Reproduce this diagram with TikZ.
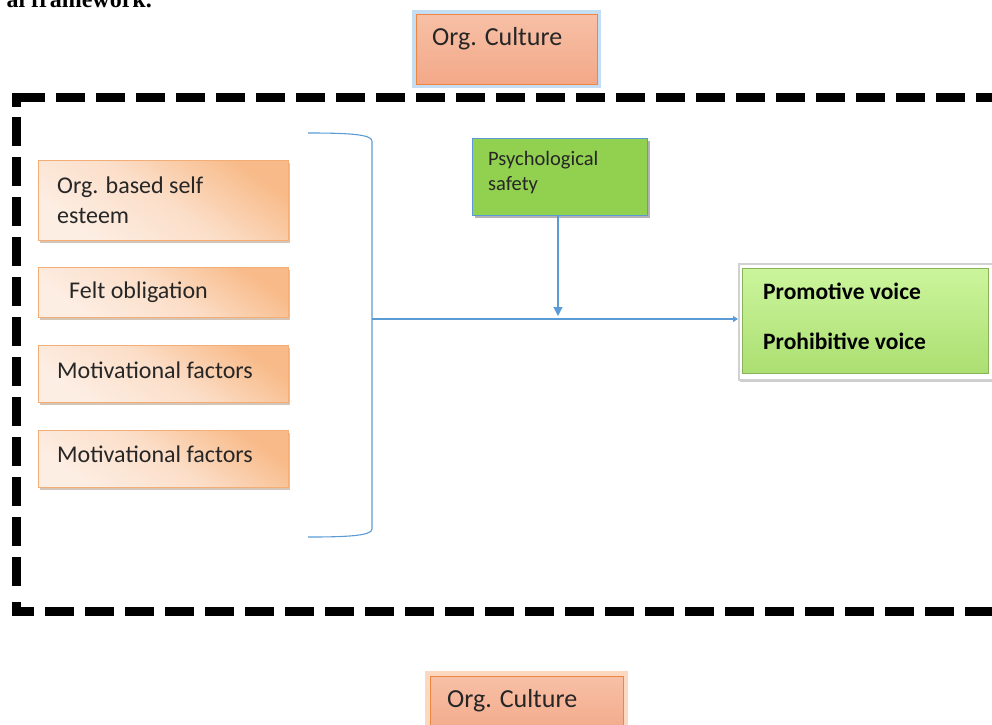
\documentclass[tikz,border=0pt]{standalone}
\usepackage{fontspec}
\setmainfont{Carlito}
\newfontfamily\titleserif{Liberation Serif}
\usetikzlibrary{arrows.meta,shadows,calc}
\definecolor{lineblue}{HTML}{5B9BD5}
\definecolor{glowblue}{HTML}{C5DDF3}
\definecolor{orgborder}{HTML}{EE8540}
\definecolor{salmontop}{HTML}{F7C0A6}
\definecolor{salmonbot}{HTML}{F3A888}
\definecolor{peachdark}{HTML}{F8BA88}
\definecolor{peachlight}{HTML}{FDEEE4}
\definecolor{peachedge}{HTML}{F3AE78}
\definecolor{psychgreen}{HTML}{92D050}
\definecolor{voicetop}{HTML}{CBF59C}
\definecolor{voicebot}{HTML}{ACDF72}
\definecolor{glowor}{HTML}{FCD9BE}
\tikzset{
  orgbox/.style={draw=orgborder, line width=1.1pt, top color=salmontop, bottom color=salmonbot, inner sep=0pt, anchor=north west},
  factorbox/.style={draw=peachedge, line width=0.5pt, top color=peachdark, bottom color=peachlight, middle color=peachlight!70!peachdark, shading angle=-35, inner sep=0pt, anchor=north west, minimum width=250pt,
    drop shadow={shadow xshift=2pt, shadow yshift=-3pt, fill=brown!70!black, opacity=0.35}},
  psychbox/.style={draw=lineblue, line width=0.8pt, fill=psychgreen, inner sep=0pt, anchor=north west, minimum width=175pt, minimum height=77pt,
    drop shadow={shadow xshift=3pt, shadow yshift=-3pt, fill=black, opacity=0.3}},
  voiceframe/.style={draw=black!18, line width=1.5pt, fill=white, inner sep=0pt, anchor=north west, minimum width=255pt, minimum height=116pt,
    drop shadow={shadow xshift=1pt, shadow yshift=-2pt, fill=black, opacity=0.2}},
  voicebox/.style={draw=voicebot!80!black, line width=0.4pt, top color=voicetop, bottom color=voicebot, inner sep=0pt, anchor=north west, minimum width=246pt, minimum height=105pt},
  bigtxt/.style={anchor=base west, inner sep=0pt, font=\fontsize{26}{30}\selectfont, text=black!85},
  facttxt/.style={anchor=base west, inner sep=0pt, font=\fontsize{24}{28}\selectfont, text=black!85},
  psytxt/.style={anchor=base west, inner sep=0pt, font=\fontsize{20.5}{24}\selectfont, text=black!85},
  voicetxt/.style={anchor=base west, inner sep=0pt, font=\fontsize{23.5}{28}\selectfont\bfseries, text=black},
  conn/.style={draw=lineblue, line width=1.1pt},
  frame/.style={line width=9pt, black, dash pattern=on 29pt off 11pt}
}
\begin{document}
\begin{tikzpicture}[x=1pt,y=-1pt]
\useasboundingbox (0,0) rectangle (992,724);
\clip (0,0) rectangle (992,724);

% cropped caption at the very top
\node[anchor=base east, inner sep=0pt, font=\titleserif\bfseries\fontsize{24}{28}\selectfont] (caption) at (152,7) {al framework.};

% top Org. Culture box with blue glow
\fill[glowblue] (412,10) rectangle (601,88);
\node[orgbox, minimum width=181pt, minimum height=70pt] (orgtop) at (416,14) {};
\node[bigtxt] (orgtoptxt) at (432,45) {Org. Culture};

% dashed frame
\draw[frame] (16,97) -- (1000,97);
\fill[black] (11.5,92.5) rectangle (20.5,107);
\draw[frame] (16,117) -- (16,597);
\fill[black] (11.5,602) rectangle (20.5,615.5);
\draw[frame, dash phase=7pt] (12,611) -- (1000,611);

% factor boxes
\node[factorbox, minimum height=80pt] (f1) at (38,160) {};
\node[facttxt] (f1a) at (57,193) {Org. based self};
\node[facttxt] (f1b) at (57,223) {esteem};
\node[factorbox, minimum height=50pt] (f2) at (38,267) {};
\node[facttxt] (f2a) at (69,298) {Felt obligation};
\node[factorbox, minimum height=57pt] (f3) at (38,345) {};
\node[facttxt] (f3a) at (57,378) {Motivational factors};
\node[factorbox, minimum height=57pt] (f4) at (38,430) {};
\node[facttxt] (f4a) at (57,462) {Motivational factors};

% bracket
\coordinate (brtop) at (308,133);
\coordinate (brbot) at (308,537);
\coordinate (brmid) at (372,319);
\draw[conn] (brtop) .. controls (345,133) and (372,134) .. (372,141) -- (372,529) .. controls (372,536) and (345,537) .. (brbot);

% psychological safety
\node[psychbox] (psych) at (472,138) {};
\node[psytxt] (psya) at (488,165) {Psychological};
\node[psytxt] (psyb) at (488,190) {safety};

% outcome box
\node[voiceframe] (voice) at (738,263) {};
\node[voicebox] (voicein) at (742,268) {};
\node[voicetxt] (v1) at (763,299) {Promotive voice};
\node[voicetxt] (v2) at (763,349) {Prohibitive voice};

% connectors
\coordinate (mod) at (558,316);
\draw[conn, -{Triangle[length=9pt,width=9pt]}] (psych.south -| mod) -- (mod);
\draw[conn, -{Triangle[length=5pt,width=6pt]}] (brmid) -- (voice.west |- brmid);

% bottom Org. Culture box with orange glow
\fill[glowor] (425,671) rectangle (628,730);
\node[orgbox, minimum width=193pt, minimum height=60pt] (orgbot) at (430,676) {};
\node[bigtxt] (orgbottxt) at (447,707) {Org. Culture};
\end{tikzpicture}
\end{document}
